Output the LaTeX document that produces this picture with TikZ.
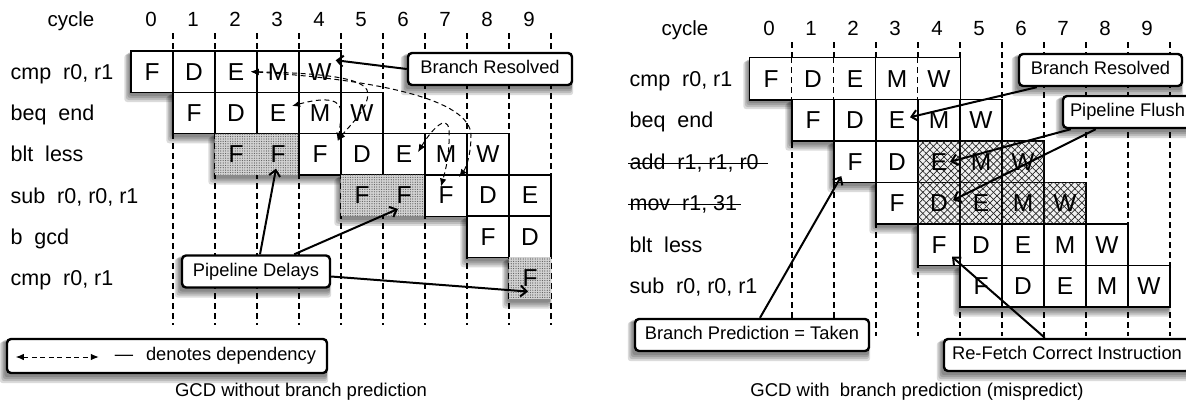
\documentclass[tikz,border=0pt]{standalone}
\usepackage{fontspec}
\setmainfont{Liberation Sans}
\usetikzlibrary{arrows.meta,calc,patterns.meta}

\pgfdeclarelayer{background}
\pgfsetlayers{background,main}

\newcommand{\hdrfont}{\fontsize{20.5pt}{23pt}\selectfont}
\newcommand{\lblfont}{\fontsize{21.5pt}{24pt}\selectfont}
\newcommand{\cellfont}{\fontsize{24.5pt}{27pt}\selectfont}
\newcommand{\notefont}{\fontsize{18.3pt}{21pt}\selectfont}
\newcommand{\capfont}{\fontsize{18.5pt}{21pt}\selectfont}

% soft shadow behind a block from #1.north west to #2.south east
\newcommand{\groupshadow}[2]{%
  \fill[shadowfill] ($(#1.north west)+(-6,4)$) rectangle ($(#2.south east)+(0,9)$);
  \fill[shadowfill] ($(#1.north west)+(-4.5,3)$) rectangle ($(#2.south east)+(-1,7)$);
  \fill[shadowfill] ($(#1.north west)+(-3,2)$) rectangle ($(#2.south east)+(-1,5)$);
  \fill[shadowfill] ($(#1.north west)+(-1.5,2)$) rectangle ($(#2.south east)+(-1,3)$);}

\tikzset{every picture/.style={line width=1.2pt}}
\tikzset{
  hdr/.style={font=\hdrfont, inner sep=0pt},
  lbl/.style={font=\lblfont, inner sep=0pt},
  captext/.style={font=\capfont, inner sep=0pt},
  cell/.style={draw, fill=white, line width=1.4pt, minimum width=42pt, minimum height=41.4pt, inner sep=0pt, font=\cellfont},
  cellnb/.style={cell, draw=none},
  stallcell/.style={cell, draw=none, fill=gray!35,
    postaction={pattern color=gray!70!black, pattern={Dots[distance=2.4pt,radius=0.6pt]}}},
  flushcell/.style={cell, fill=gray!12,
    postaction={pattern color=black!85, pattern={Lines[angle=45,distance=5pt,line width=0.7pt]}},
    postaction={pattern color=black!85, pattern={Lines[angle=-45,distance=5pt,line width=0.7pt]}}},
  shadowfill/.style={fill=black, opacity=0.14, rounded corners=3pt},
  callout/.style={draw, fill=white, rounded corners=4pt, line width=2.4pt, inner sep=0pt, minimum height=32pt, text height=13.2pt, text depth=3.8pt, font=\notefont},
  grid/.style={line width=1.2pt, dash pattern=on 6pt off 4pt},
  dep/.style={line width=1pt, dash pattern=on 5pt off 3.5pt, {Latex[length=8pt,width=6.5pt]}-{Latex[length=8pt,width=6.5pt]}},
  pointer/.style={line width=2pt, -{Straight Barb[length=6pt,width=11pt]}},
  strike/.style={line width=1.3pt}
}

\begin{document}
\begin{tikzpicture}[x=1pt,y=1pt,yscale=-1]
\useasboundingbox (0,0) rectangle (1186,415);

%%%%%%%% GCD without branch prediction

% Text Node
\node[hdr, anchor=base] (Lcyc) at (71,27) {cycle};
\foreach \c in {0,...,9} \node[hdr, anchor=base] (Lh\c) at (151+42*\c,27) {\c};

% Text Node
\node[lbl, anchor=base west] (Lr0) at (10,79.2) {cmp~~r0, r1};
\node[lbl, anchor=base west] (Lr1) at (10,120.5) {beq~~end};
\node[lbl, anchor=base west] (Lr2) at (10,161.8) {blt~~less};
\node[lbl, anchor=base west] (Lr3) at (10,203.1) {sub~~r0, r0, r1};
\node[lbl, anchor=base west] (Lr4) at (10,244.4) {b~~gcd};
\node[lbl, anchor=base west] (Lr5) at (10,285.7) {cmp~~r0, r1};

%Shape: Rectangle
\foreach \c/\s in {0/F,1/D,2/E,3/M,4/W} \node[cell] (L0\c) at (152+42*\c,71.65) {\s};
\foreach \c/\s in {1/F,2/D,3/E,4/M,5/W} \node[cell] (L1\c) at (152+42*\c,112.95) {\s};
\foreach \c in {2,3} \node[stallcell] (L2\c) at (152+42*\c,154.25) {F};
\foreach \c/\s in {4/F,5/D,6/E,7/M,8/W} \node[cell] (L2\c) at (152+42*\c,154.25) {\s};
\foreach \c in {5,6} \node[stallcell] (L3\c) at (152+42*\c,195.55) {F};
\foreach \c/\s in {7/F,8/D,9/E} \node[cell] (L3\c) at (152+42*\c,195.55) {\s};
\foreach \c/\s in {8/F,9/D} \node[cell] (L4\c) at (152+42*\c,236.85) {\s};
\node[stallcell] (L59) at (530,278.15) {F};

% dependencies
\draw[dep] ($(L02.east)+(-7,0)$) .. controls (310,73) and (360,76) .. (367,90) .. controls (372,105) and (350,125) .. ($(L24.north east)+(-4,8)$);
\draw[dep] ($(L13.center)+(14,-7)$) .. controls (325,97) and (343,98) .. (341,115) .. controls (340,128) and (339,135) .. ($(L24.north east)+(-4,8)$);
\draw[dep] ($(L02.east)+(-7,0)$) .. controls (380,80) and (470,100) .. (471,135) .. controls (471,155) and (466,168) .. ($(L37.north)+(13,3)$);
\draw[dep] ($(L26.center)+(14,-2)$) .. controls (430,132) and (447,112) .. (449,130) .. controls (450,155) and (445,172) .. ($(L37.center)+(-5,-9)$);

% Text Node
\node[callout, minimum width=164pt] (LBR) at (490,69) {Branch Resolved};
\draw[pointer] (LBR.west) -- ($(L04.north east)+(-6,10)$);

\node[callout, minimum width=148pt] (LPD) at (256,271.5) {Pipeline Delays};
\draw[pointer] ($(LPD.north)+(4,0)$) -- ($(L23.south)+(-2,-7)$);
\draw[pointer] ($(LPD.north east)+(-37,0)$) -- ($(L36.south)+(-6,-8)$);
\draw[pointer] ($(LPD.east)+(0,5)$) -- ($(L59.south)+(-2,-8)$);

\node[callout, minimum width=320pt, minimum height=34pt] (LEG) at (167,356) {\makebox[298pt][r]{—\hspace{13pt}denotes dependency}};
\draw[dep] ($(LEG.west)+(10,1)$) -- ($(LEG.west)+(93,1)$);

\node[captext, anchor=base] (Lcap) at (301,396) {GCD without branch prediction};

%%%%%%%% GCD with branch prediction

% Text Node
\node[hdr, anchor=base] (Rcyc) at (685,35) {cycle};
\foreach \c in {0,...,9} \node[hdr, anchor=base] (Rh\c) at (769+42*\c,35) {\c};

% Text Node
\node[lbl, anchor=base west] (Rr0) at (629,86.25) {cmp~~r0, r1};
\node[lbl, anchor=base west] (Rr1) at (629,127.75) {beq~~end};
\node[lbl, anchor=base west] (Rr2) at (629,169.25) {add~~r1, r1, r0};
\node[lbl, anchor=base west] (Rr3) at (629,210.75) {mov~~r1, 31};
\node[lbl, anchor=base west] (Rr4) at (629,252.25) {blt~~less};
\node[lbl, anchor=base west] (Rr5) at (629,293.75) {sub~~r0, r0, r1};
\draw[strike] ($(Rr2.base west)+(-1,-6)$) -- ($(Rr2.base east)+(9,-6)$);
\draw[strike] ($(Rr3.base west)+(-1,-6)$) -- ($(Rr3.base east)+(3,-6)$);

%Shape: Rectangle
\foreach \c/\s in {0/F,1/D,2/E,3/M,4/W} \node[cellnb] (R0\c) at (771+42*\c,78.75) {\s};
\draw[line width=1.4pt] (R00.north west) rectangle (R04.south east);
\draw[line width=1.4pt] (R03.north west) -- (R03.south west);
\foreach \c in {1,2,4} \draw[grid] (R0\c.north west) -- (R0\c.south west);
\foreach \c/\s in {1/F,2/D,3/E,4/M,5/W} \node[cell] (R1\c) at (771+42*\c,120.25) {\s};
\foreach \c/\s in {2/F,3/D} \node[cell] (R2\c) at (771+42*\c,161.75) {\s};
\foreach \c/\s in {4/E,5/M,6/W} \node[flushcell] (R2\c) at (771+42*\c,161.75) {\s};
\node[cell] (R33) at (897,203.25) {F};
\foreach \c/\s in {4/D,5/E,6/M,7/W} \node[flushcell] (R3\c) at (771+42*\c,203.25) {\s};
\foreach \c/\s in {4/F,5/D,6/E,7/M,8/W} \node[cell] (R4\c) at (771+42*\c,244.75) {\s};
\foreach \c/\s in {5/F,6/D,7/E,8/M,9/W} \node[cell] (R5\c) at (771+42*\c,286.25) {\s};

% Text Node
\node[callout, minimum width=163pt] (RBR) at (1100.5,70) {Branch Resolved};
\draw[pointer] ($(RBR.south west)+(19,0)$) -- ($(R13.center)+(13,-3)$);

\node[callout, minimum width=129pt] (RPF) at (1127.5,112) {Pipeline Flush};
\draw[pointer] ($(RPF.south west)+(9,0)$) -- ($(R24.center)+(11,0)$);
\draw[pointer] ($(RPF.south west)+(34,0)$) -- ($(R34.center)+(14,-3)$);

\node[callout, minimum width=234pt] (RBP) at (752,335) {Branch Prediction = Taken};
\draw[pointer] ($(RBP.north)+(8,0)$) -- ($(R22.south west)+(8,-7)$);

\node[callout, minimum width=246pt] (RRF) at (1067,355) {Re-Fetch Correct Instruction};
\draw[pointer] ($(RRF.north west)+(102,0)$) -- ($(R44.center)+(13,12)$);

\node[captext, anchor=base] (Rcap) at (917,396) {GCD with~~branch prediction (mispredict)};

\begin{pgfonlayer}{background}
% grid
\foreach \k in {0,...,9} \draw[grid] (173+42*\k,33) -- (173+42*\k,325);
\foreach \k in {0,...,9} \draw[grid] (792+42*\k,42) -- (792+42*\k,336);
% shadows
\groupshadow{L00}{L04} \groupshadow{L11}{L15} \groupshadow{L22}{L28}
\groupshadow{L35}{L39} \groupshadow{L48}{L49} \groupshadow{L59}{L59}
\groupshadow{R00}{R04} \groupshadow{R11}{R15} \groupshadow{R22}{R26}
\groupshadow{R33}{R37} \groupshadow{R44}{R48} \groupshadow{R55}{R59}
\groupshadow{LBR}{LBR} \groupshadow{LPD}{LPD} \groupshadow{LEG}{LEG}
\groupshadow{RBR}{RBR} \groupshadow{RPF}{RPF} \groupshadow{RBP}{RBP} \groupshadow{RRF}{RRF}
\end{pgfonlayer}

\end{tikzpicture}
\end{document}
